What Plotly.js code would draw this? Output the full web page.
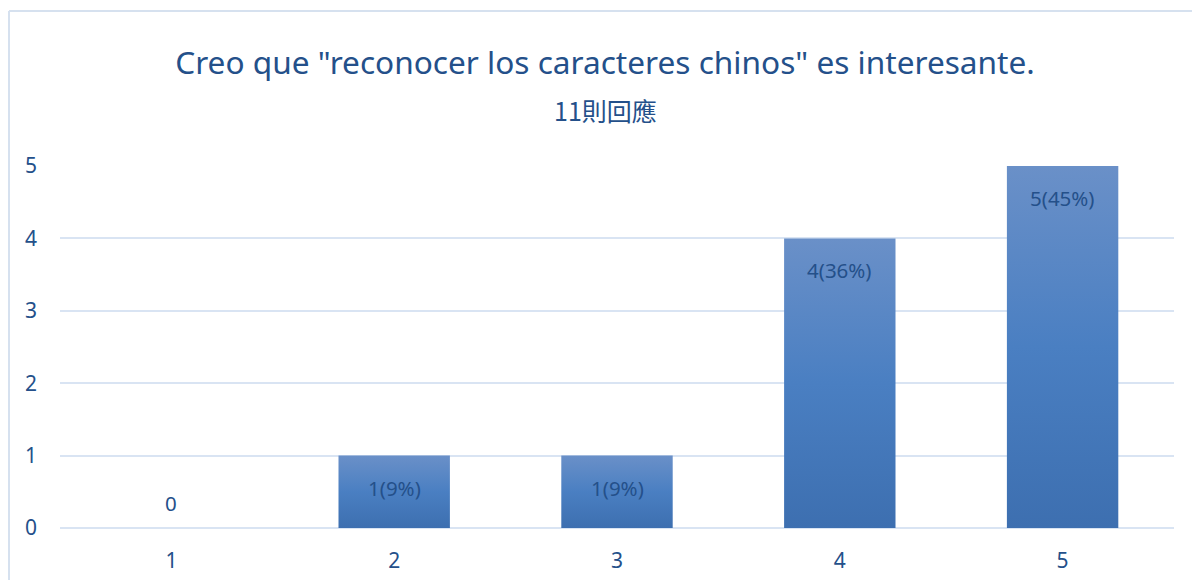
<!DOCTYPE html>
<html>
<head>
<meta charset="utf-8">
<script src="https://cdn.plot.ly/plotly-3.0.1.min.js"></script>
<style>
  html, body { margin: 0; padding: 0; background: #ffffff; }
  #chart { width: 1192px; height: 580px; }
</style>
</head>
<body>
<div id="chart"></div>
<script>
const categories = ['1', '2', '3', '4', '5'];
const counts = [0, 1, 1, 4, 5];
const yTicks = [0, 1, 2, 3, 4, 5];
const titleText = 'Creo que "reconocer los caracteres chinos" es interesante.';
const subtitleText = '11則回應';

const total = counts.reduce((a, b) => a + b, 0);
const labels = counts.map(v => v === 0 ? '0' : v + '(' + Math.round(v / total * 100) + '%)');

const textColor = '#24508a';
const gridColor = '#d9e4f3';
const fontFam = '"Noto Sans", "Open Sans", sans-serif';

const trace = {
  type: 'bar',
  x: categories,
  y: counts,
  width: 0.5,
  marker: { color: '#5583c2', line: { width: 0 } },
  hoverinfo: 'none'
};

const L = 60, T = 166, W = 1114, H = 362;
const px = v => (v - L) / W;
const py = v => (T + H - v) / H;

const annotations = categories.map((c, i) => ({
  x: i, y: counts[i], xref: 'x', yref: 'y',
  text: labels[i], showarrow: false,
  yanchor: 'middle', yshift: counts[i] === 0 ? 25 : -32,
  font: { family: fontFam, size: 20.5, color: textColor }
}));
annotations.push({
  text: subtitleText, xref: 'paper', yref: 'paper',
  x: px(605), y: py(110), xanchor: 'center', yanchor: 'middle',
  showarrow: false,
  font: { family: '"Noto Sans CJK TC", "Noto Sans", sans-serif', size: 25, color: textColor }
});

const layout = {
  width: 1192, height: 580,
  margin: { l: L, r: 1192 - L - W, t: T, b: 580 - T - H },
  paper_bgcolor: '#ffffff', plot_bgcolor: '#ffffff',
  showlegend: false,
  title: {
    text: titleText, xref: 'container', yref: 'container',
    x: 605 / 1192, y: 1 - 63 / 580, xanchor: 'center', yanchor: 'middle',
    font: { family: fontFam, size: 31.6, color: textColor }
  },
  xaxis: {
    type: 'category', range: [-0.5, 4.5], showgrid: false, zeroline: false, showline: false,
    ticks: '', ticklabelstandoff: 18,
    tickfont: { family: fontFam, size: 21, color: textColor }
  },
  yaxis: {
    range: [0, 5], tickvals: yTicks, showgrid: true, gridcolor: gridColor, gridwidth: 2,
    zeroline: true, zerolinecolor: gridColor, zerolinewidth: 2, showline: false,
    ticks: '', ticklabelstandoff: 22,
    tickfont: { family: fontFam, size: 21, color: textColor }
  },
  annotations: annotations,
  shapes: [
    { type: 'line', xref: 'paper', yref: 'paper', x0: px(9), x1: px(1200), y0: py(11), y1: py(11),
      line: { color: '#d6e1ef', width: 2 } },
    { type: 'line', xref: 'paper', yref: 'paper', x0: px(9), x1: px(9), y0: py(11), y1: py(600),
      line: { color: '#d6e1ef', width: 2 } }
  ]
};

Plotly.newPlot('chart', [trace], layout, { staticPlot: true }).then(gd => {
  const svg = gd.querySelector('svg.main-svg');
  const ns = 'http://www.w3.org/2000/svg';
  let defs = svg.querySelector('defs');
  if (!defs) { defs = document.createElementNS(ns, 'defs'); svg.insertBefore(defs, svg.firstChild); }
  const g = document.createElementNS(ns, 'linearGradient');
  g.setAttribute('id', 'barGrad');
  g.setAttribute('x1', '0'); g.setAttribute('y1', '0'); g.setAttribute('x2', '0'); g.setAttribute('y2', '1');
  [['0', '#6a90c8'], ['0.5', '#4a7fc2'], ['1', '#3d6fb0']].forEach(([o, c]) => {
    const s = document.createElementNS(ns, 'stop');
    s.setAttribute('offset', o); s.setAttribute('stop-color', c);
    g.appendChild(s);
  });
  defs.appendChild(g);
  gd.querySelectorAll('.trace.bars .point path').forEach(p => { p.style.fill = 'url(#barGrad)'; });
});
</script>
</body>
</html>
